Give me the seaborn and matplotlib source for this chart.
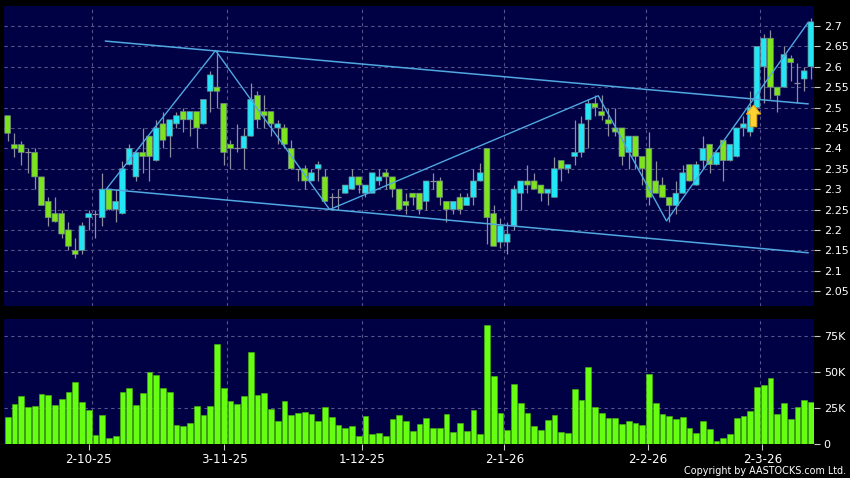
import numpy as np
import pandas as pd
import seaborn as sns
import matplotlib
matplotlib.use('Agg')
import matplotlib.pyplot as plt
from matplotlib.patches import Polygon

# daily open/high/low/close, close > open is drawn cyan
opens = [2.48, 2.409, 2.409, 2.39, 2.39, 2.33, 2.27, 2.24, 2.24, 2.20, 2.15, 2.15, 2.23, 2.24, 2.23, 2.30, 2.25, 2.24, 2.36, 2.33,
         2.39, 2.43, 2.37, 2.46, 2.43, 2.46, 2.49, 2.47, 2.49, 2.46, 2.54, 2.55, 2.51, 2.41, 2.40, 2.40, 2.43, 2.53, 2.49, 2.49,
         2.45, 2.45, 2.40, 2.35, 2.35, 2.32, 2.35, 2.33, 2.28, 2.28, 2.29, 2.30, 2.33, 2.29, 2.29, 2.32, 2.34, 2.33, 2.30, 2.27,
         2.29, 2.29, 2.27, 2.32, 2.32, 2.27, 2.25, 2.28, 2.26, 2.28, 2.32, 2.40, 2.24, 2.17, 2.17, 2.21, 2.29, 2.32, 2.32, 2.31,
         2.29, 2.28, 2.37, 2.35, 2.38, 2.39, 2.47, 2.51, 2.49, 2.47, 2.45, 2.45, 2.39, 2.43, 2.38, 2.40, 2.32, 2.31, 2.28, 2.26,
         2.29, 2.36, 2.31, 2.37, 2.41, 2.36, 2.42, 2.37, 2.38, 2.45, 2.44, 2.50, 2.60, 2.67, 2.55, 2.55, 2.62, 2.56, 2.57, 2.60]
closes = [2.437, 2.399, 2.39, 2.39, 2.33, 2.26, 2.23, 2.22, 2.19, 2.16, 2.14, 2.21, 2.24, 2.24, 2.30, 2.25, 2.27, 2.35, 2.40, 2.39,
          2.38, 2.38, 2.45, 2.42, 2.47, 2.48, 2.47, 2.49, 2.45, 2.52, 2.58, 2.54, 2.39, 2.40, 2.40, 2.43, 2.52, 2.47, 2.48, 2.46,
          2.46, 2.41, 2.35, 2.35, 2.32, 2.34, 2.36, 2.27, 2.28, 2.28, 2.31, 2.33, 2.31, 2.31, 2.34, 2.33, 2.33, 2.30, 2.25, 2.26,
          2.28, 2.25, 2.32, 2.32, 2.28, 2.25, 2.27, 2.25, 2.28, 2.32, 2.34, 2.23, 2.16, 2.21, 2.19, 2.30, 2.32, 2.31, 2.30, 2.29,
          2.30, 2.35, 2.35, 2.36, 2.39, 2.46, 2.51, 2.50, 2.48, 2.46, 2.44, 2.38, 2.43, 2.38, 2.35, 2.28, 2.29, 2.28, 2.26, 2.29,
          2.34, 2.32, 2.36, 2.40, 2.36, 2.39, 2.37, 2.41, 2.45, 2.46, 2.50, 2.65, 2.67, 2.55, 2.53, 2.63, 2.61, 2.56, 2.59, 2.71]
highs = [2.48, 2.437, 2.418, 2.40, 2.40, 2.33, 2.28, 2.28, 2.25, 2.22, 2.18, 2.22, 2.25, 2.25, 2.34, 2.30, 2.30, 2.37, 2.41, 2.39,
         2.45, 2.43, 2.47, 2.49, 2.47, 2.49, 2.50, 2.49, 2.49, 2.52, 2.59, 2.64, 2.51, 2.42, 2.46, 2.45, 2.56, 2.54, 2.53, 2.49,
         2.47, 2.46, 2.42, 2.35, 2.36, 2.35, 2.37, 2.35, 2.29, 2.30, 2.31, 2.35, 2.33, 2.31, 2.34, 2.35, 2.35, 2.33, 2.30, 2.29,
         2.29, 2.29, 2.32, 2.34, 2.33, 2.27, 2.27, 2.29, 2.29, 2.35, 2.365, 2.40, 2.26, 2.23, 2.22, 2.31, 2.32, 2.36, 2.34, 2.31,
         2.30, 2.38, 2.37, 2.36, 2.47, 2.48, 2.52, 2.53, 2.53, 2.50, 2.50, 2.45, 2.43, 2.43, 2.38, 2.44, 2.37, 2.33, 2.28, 2.32,
         2.36, 2.36, 2.37, 2.43, 2.41, 2.39, 2.42, 2.41, 2.45, 2.48, 2.54, 2.65, 2.68, 2.69, 2.55, 2.65, 2.63, 2.61, 2.60, 2.72]
lows = [2.418, 2.38, 2.36, 2.34, 2.30, 2.26, 2.21, 2.22, 2.18, 2.15, 2.13, 2.14, 2.20, 2.18, 2.21, 2.25, 2.22, 2.24, 2.36, 2.32,
        2.34, 2.32, 2.37, 2.40, 2.38, 2.45, 2.44, 2.43, 2.40, 2.46, 2.49, 2.50, 2.36, 2.35, 2.39, 2.35, 2.43, 2.45, 2.45, 2.43,
        2.41, 2.40, 2.35, 2.32, 2.30, 2.32, 2.32, 2.27, 2.25, 2.25, 2.29, 2.30, 2.29, 2.28, 2.29, 2.31, 2.30, 2.28, 2.25, 2.24,
        2.26, 2.24, 2.25, 2.30, 2.26, 2.22, 2.24, 2.24, 2.26, 2.26, 2.32, 2.165, 2.16, 2.155, 2.14, 2.20, 2.25, 2.29, 2.30, 2.27,
        2.26, 2.28, 2.32, 2.34, 2.36, 2.38, 2.40, 2.48, 2.47, 2.43, 2.43, 2.36, 2.35, 2.35, 2.31, 2.26, 2.29, 2.28, 2.22, 2.24,
        2.29, 2.32, 2.31, 2.35, 2.34, 2.36, 2.32, 2.37, 2.38, 2.43, 2.43, 2.50, 2.51, 2.52, 2.49, 2.55, 2.565, 2.51, 2.54, 2.57]

# volume in thousands
volumes = [18.7, 27.8, 33.2, 25.2, 26.4, 34.3, 33.6, 27.1, 30.8, 36.2, 43.2, 28.7, 23.4, 6.1, 19.6, 4.0, 5.1, 36.0, 39.0, 26.6,
           35.5, 49.8, 48.1, 39.0, 35.7, 12.9, 12.4, 14.3, 26.2, 20.1, 25.9, 69.4, 38.8, 29.9, 27.6, 33.2, 64.0, 34.1, 35.5, 24.1,
           15.4, 29.7, 19.6, 21.3, 21.7, 20.6, 15.7, 25.2, 18.2, 12.9, 10.5, 11.9, 5.1, 19.4, 6.3, 7.0, 5.1, 17.0, 19.6, 15.7,
           8.9, 13.6, 17.8, 11.0, 10.7, 20.8, 7.7, 14.5, 8.9, 23.4, 6.3, 82.7, 47.0, 21.3, 9.1, 41.4, 28.3, 21.3, 12.4, 9.1,
           16.1, 19.9, 7.7, 7.5, 38.1, 30.6, 53.5, 25.2, 21.3, 18.0, 17.8, 13.6, 15.7, 14.3, 12.6, 48.6, 28.5, 20.3, 19.2, 17.1,
           18.5, 11.0, 7.2, 15.7, 9.8, 1.6, 3.5, 6.5, 17.8, 19.2, 22.7, 39.7, 40.7, 45.8, 20.6, 28.3, 17.1, 25.5, 30.1, 29.0]

price_ticks = [2.05, 2.1, 2.15, 2.2, 2.25, 2.3, 2.35, 2.4, 2.45, 2.5, 2.55, 2.6, 2.65, 2.7]
price_labels = ['2.05', '2.1', '2.15', '2.2', '2.25', '2.3', '2.35', '2.4', '2.45', '2.5', '2.55', '2.6', '2.65', '2.7']
volume_ticks = [0, 25, 50, 75]
volume_labels = ['0', '25K', '50K', '75K']
date_ticks = [12, 32.1, 52.5, 73.6, 94.8, 111.8]
date_labels = ['2-10-25', '3-11-25', '1-12-25', '2-1-26', '2-2-26', '2-3-26']
month_grid = [12.5, 32.5, 52.5, 73.5, 94.5, 111.5]

# trend lines, x in bar positions
upper_x = [14.46, 118.6]
upper_y = [2.663, 2.509]
lower_x = [14.6, 118.6]
lower_y = [2.30, 2.144]
zigzag_x = [14.6, 30.8, 47.7, 87.5, 97.6, 118.6]
zigzag_y = [2.30, 2.64, 2.25, 2.529, 2.222, 2.709]

BG = '#000000'
PANEL = '#000044'
GRID = '#55558c'
UP = '#22e6f5'
DOWN = '#7de31c'
EDGE = '#708888'
WICK = '#8d8d9d'
TREND = '#4fa8e0'
VOL = '#66ff11'

W, H = 850, 478
sns.set_theme(style='dark', rc={'figure.facecolor': BG, 'axes.facecolor': PANEL, 'savefig.facecolor': BG})
plt.rcParams['font.family'] = ['DejaVu Sans']

fig = plt.figure(figsize=(W / 100, H / 100), dpi=100)
ax = fig.add_axes([4 / W, 1 - 306 / H, 810 / W, 300 / H])
ax2 = fig.add_axes([4 / W, 1 - 443.5 / H, 810 / W, 124.5 / H])

xs = np.arange(len(opens))
df = pd.DataFrame({'x': xs, 'open': opens, 'high': highs, 'low': lows, 'close': closes, 'volume': volumes})

for a in (ax, ax2):
    a.set_axisbelow(True)
    a.grid(False)
    for s in a.spines.values():
        s.set_visible(False)
    a.vlines(month_grid, 0, 1, transform=a.get_xaxis_transform(), color=GRID, lw=0.8, ls=(0, (3, 3)), zorder=1)

ax.hlines(price_ticks, 0, 1, transform=ax.get_yaxis_transform(), color=GRID, lw=0.8, ls=(0, (3, 3)), zorder=1)
ax2.hlines(volume_ticks[1:], 0, 1, transform=ax2.get_yaxis_transform(), color=GRID, lw=0.8, ls=(0, (3, 3)), zorder=1)

# candles, snap off so every body keeps the same width
ax.vlines(df['x'], df['low'], df['high'], color=WICK, lw=0.9, zorder=2)
flat = df[df['open'] == df['close']]
ax.hlines(flat['open'], flat['x'] - 0.45, flat['x'] + 0.45, color=WICK, lw=0.9, zorder=2)
up = df[df['close'] > df['open']]
down = df[df['close'] < df['open']]
ax.bar(up['x'], up['close'] - up['open'], bottom=up['open'], width=0.86, color=UP, edgecolor=EDGE, lw=0.5, snap=False, zorder=3)
ax.bar(down['x'], down['open'] - down['close'], bottom=down['close'], width=0.86, color=DOWN, edgecolor=EDGE, lw=0.5, snap=False, zorder=3)

# channel and zigzag
sns.lineplot(x=upper_x, y=upper_y, ax=ax, color=TREND, lw=1.1, sort=False, zorder=4)
sns.lineplot(x=lower_x, y=lower_y, ax=ax, color=TREND, lw=1.1, sort=False, zorder=4)
sns.lineplot(x=zigzag_x, y=zigzag_y, ax=ax, color=TREND, lw=1.0, sort=False, zorder=4)

# yellow signal arrow
tip_x, tip_y = 110.5, 2.506
arrow = Polygon([(tip_x, tip_y), (tip_x + 1.07, tip_y - 0.022), (tip_x + 0.47, tip_y - 0.022),
                 (tip_x + 0.47, tip_y - 0.053), (tip_x - 0.47, tip_y - 0.053),
                 (tip_x - 0.47, tip_y - 0.022), (tip_x - 1.07, tip_y - 0.022)],
                closed=True, facecolor='#ffd233', edgecolor='#e0a81e', lw=0.8, zorder=5)
ax.add_patch(arrow)

# volume bars
sns.barplot(x=xs, y=volumes, ax=ax2, native_scale=True, color=VOL, saturation=1, width=0.84,
            edgecolor='#48b80e', linewidth=0.4, zorder=3)

for a in (ax, ax2):
    a.set_xlim(-0.546, 119.454)
    a.yaxis.tick_right()
    a.set_xlabel('')
    a.set_ylabel('')

ax.set_ylim(2.0135, 2.749)
ax.set_xticks([])
ax.set_yticks(price_ticks)
ax.set_yticklabels(price_labels)
ax2.set_ylim(0, 87)
ax2.set_yticks(volume_ticks)
ax2.set_yticklabels(volume_labels)
ax2.set_xticks(date_ticks)
ax2.set_xticklabels(date_labels)

ax.tick_params(axis='y', right=True, length=4, width=0.8, color='#c8c8c8', pad=3, labelcolor='white', labelsize=8)
ax2.tick_params(axis='y', right=True, length=4, width=0.8, color='#c8c8c8', pad=3, labelcolor='white', labelsize=8)
ax2.tick_params(axis='x', bottom=True, length=4, width=0.8, color='#c8c8c8', pad=3, labelcolor='white', labelsize=8.6)

fig.text(846 / W, 1 - 471 / H, 'Copyright by AASTOCKS.com Ltd.', color='white', fontsize=6.9, ha='right', va='center')

fig.savefig('out.png', dpi=100)
